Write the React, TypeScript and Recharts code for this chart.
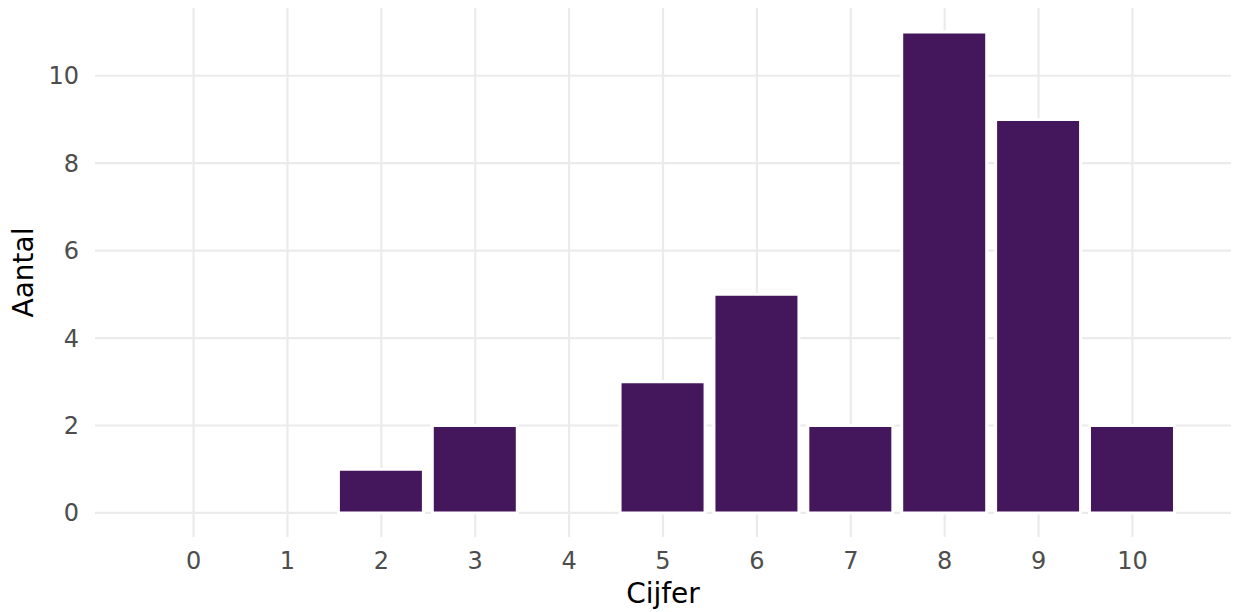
import { BarChart, Bar, XAxis, YAxis, CartesianGrid } from 'recharts';

const cijfers = [0, 1, 2, 3, 4, 5, 6, 7, 8, 9, 10];
const aantallen = [0, 0, 1, 2, 0, 3, 5, 2, 11, 9, 2];
const yTicks = [0, 2, 4, 6, 8, 10];

const data = cijfers.map((c, i) => ({ cijfer: c, aantal: aantallen[i] }));

const font = 'DejaVu Sans, sans-serif';

export default function App() {
  return (
    <div style={{ position: 'absolute', left: 0, top: 0, width: 1236, height: 612, background: '#fff' }}>
      <BarChart width={1236} height={612} data={data} margin={{ top: 8, right: 5, bottom: 0, left: 0 }}>
        <CartesianGrid stroke="#ebebeb" strokeWidth={2.2} horizontalValues={yTicks} verticalValues={cijfers} />
        <XAxis
          dataKey="cijfer"
          type="number"
          domain={[-1.05, 11.05]}
          ticks={cijfers}
          allowDataOverflow
          axisLine={false}
          tickLine={false}
          tickSize={0}
          tickMargin={15}
          height={75}
          tick={{ fill: '#4d4d4d', fontSize: 24, fontFamily: font }}
          label={{ value: 'Cijfer', position: 'insideBottom', offset: 9, fill: '#000', fontSize: 28, fontFamily: font }}
        />
        <YAxis
          type="number"
          domain={[-0.55, 11.55]}
          ticks={yTicks}
          allowDataOverflow
          axisLine={false}
          tickLine={false}
          tickSize={0}
          tickMargin={16}
          width={95}
          tick={{ fill: '#4d4d4d', fontSize: 24, fontFamily: font }}
          label={{ value: 'Aantal', angle: -90, position: 'insideLeft', offset: 23, fill: '#000', fontSize: 28, fontFamily: font, style: { textAnchor: 'middle' } }}
        />
        <Bar dataKey="aantal" fill="#44165c" stroke="#fff" strokeWidth={3} barSize={85} isAnimationActive={false} />
      </BarChart>
    </div>
  );
}
